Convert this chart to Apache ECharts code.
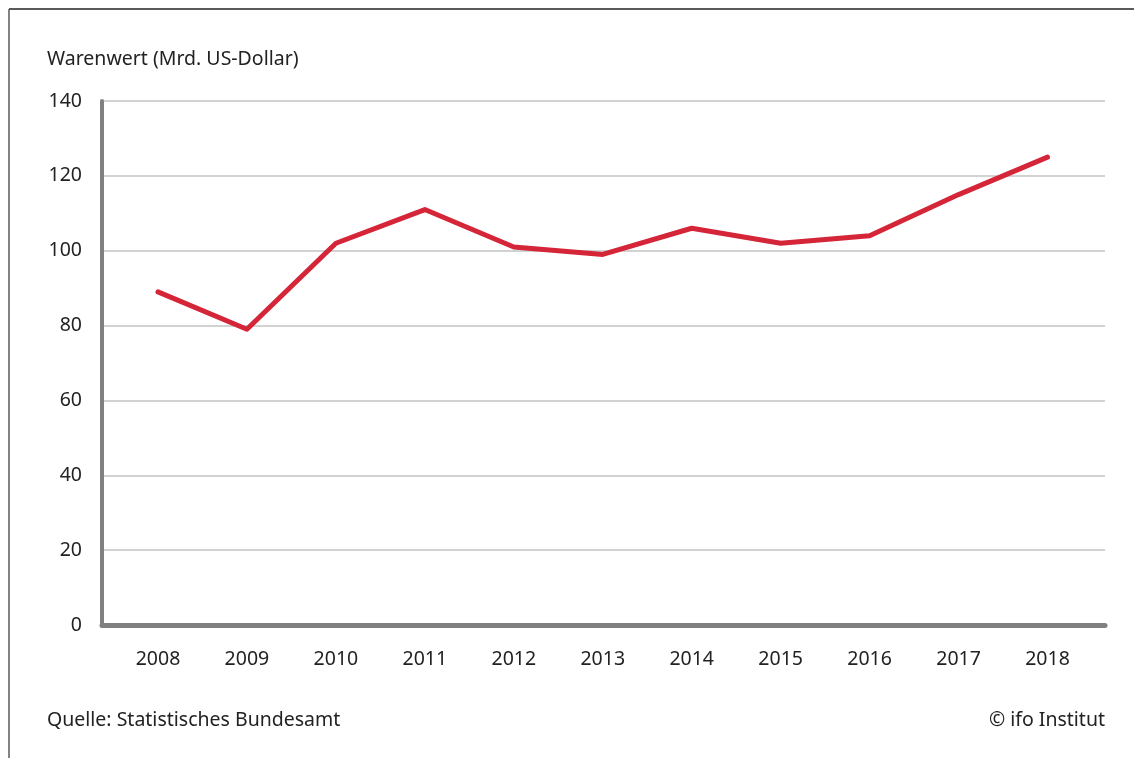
<!DOCTYPE html>
<html>
<head>
<meta charset="utf-8">
<script src="https://cdn.jsdelivr.net/npm/echarts@6/dist/echarts.min.js"></script>
<style>
  html, body { margin: 0; padding: 0; background: #fff; }
  #chart { width: 1134px; height: 758px; }
</style>
</head>
<body>
<div id="chart"></div>
<script>
var years = ['2008', '2009', '2010', '2011', '2012', '2013', '2014', '2015', '2016', '2017', '2018'];
var warenwert = [89, 79, 102, 111, 101, 99, 106, 102, 104, 115, 125];

var FONT = '"Noto Sans", sans-serif';
var TXT = '#222';

var myChart = echarts.init(document.getElementById('chart'));
var option = {
    animation: false,
    backgroundColor: '#fff',
    grid: [
        // background grid: gridlines + axis lines
        { left: 102, right: 29, top: 101, bottom: 133 },
        // data grid: category bands
        { left: 113.5, right: 42, top: 101, bottom: 133 }
    ],
    xAxis: [
        {
            gridIndex: 0, type: 'category', data: years,
            axisLine: { show: true, lineStyle: { color: '#808080', width: 5 } },
            axisTick: { show: false }, axisLabel: { show: false }, splitLine: { show: false }
        },
        {
            gridIndex: 1, type: 'category', data: years, boundaryGap: true,
            axisLine: { show: false }, axisTick: { show: false },
            axisLabel: { margin: 24, color: TXT, fontSize: 19.5, fontFamily: FONT }
        }
    ],
    yAxis: [
        {
            gridIndex: 0, type: 'value', min: 0, max: 140, interval: 20,
            axisLine: { show: true, lineStyle: { color: '#808080', width: 4 } },
            axisTick: { show: false },
            axisLabel: { margin: 20, color: TXT, fontSize: 19.5, fontFamily: FONT },
            splitLine: { show: true, lineStyle: { color: '#d2d2d2', width: 2 } }
        },
        {
            gridIndex: 1, type: 'value', min: 0, max: 140, interval: 20,
            axisLine: { show: false }, axisTick: { show: false },
            axisLabel: { show: false }, splitLine: { show: false }
        }
    ],
    graphic: [
        { type: 'line', shape: { x1: 9, y1: 9, x2: 1134, y2: 9 }, style: { stroke: '#5a5a5a', lineWidth: 2 } },
        { type: 'line', shape: { x1: 9, y1: 9, x2: 9, y2: 758 }, style: { stroke: '#5a5a5a', lineWidth: 1.5 } },
        { type: 'text', left: 47, top: 49, style: { text: 'Warenwert (Mrd. US-Dollar)', fill: TXT, font: '19.5px ' + FONT } },
        { type: 'text', left: 47, top: 710, style: { text: 'Quelle: Statistisches Bundesamt', fill: TXT, font: '19.5px ' + FONT } },
        { type: 'text', right: 29, top: 710, style: { text: '\u00a9 ifo Institut', fill: TXT, font: '19.5px ' + FONT } }
    ],
    series: [{
        type: 'line',
        xAxisIndex: 1, yAxisIndex: 1,
        data: warenwert,
        symbol: 'none',
        lineStyle: { color: '#d42638', width: 5, cap: 'round', join: 'round' },
        z: 5
    }]
};
myChart.setOption(option);
</script>
</body>
</html>
